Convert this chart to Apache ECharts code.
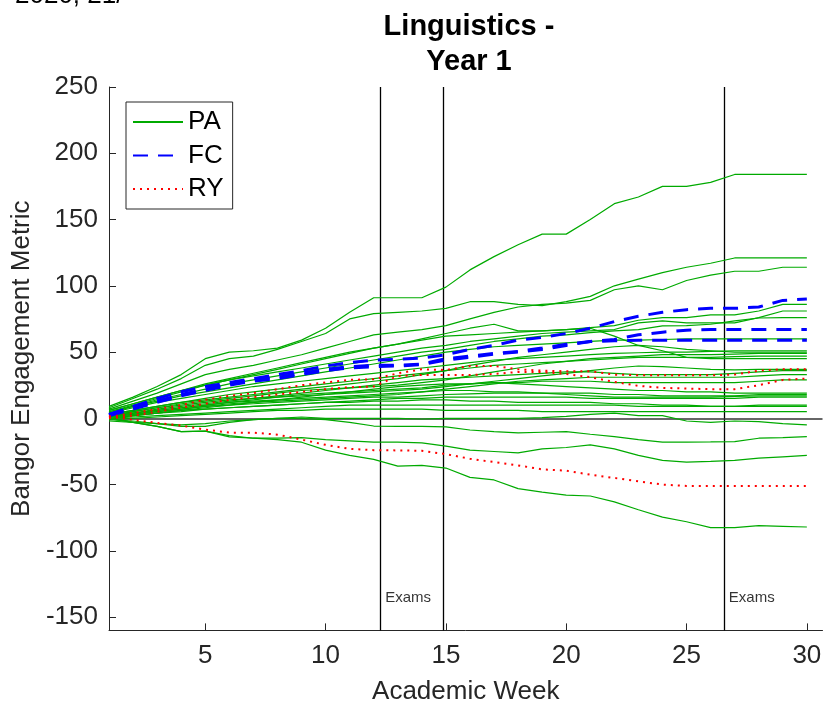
<!DOCTYPE html>
<html><head><meta charset="utf-8">
<script src="https://cdn.jsdelivr.net/npm/echarts@6/dist/echarts.min.js"></script>
<style>html,body{margin:0;padding:0;background:#fff}#c{width:824px;height:702px}</style>
</head><body><div id="c"></div>
<script>
const weeks = [1,2,3,4,5,6,7,8,9,10,11,12,13,14,15,16,17,18,19,20,21,22,23,24,25,26,27,28,29,30];
const yTicks = [-150,-100,-50,0,50,100,150,200,250];
const xTicks = [5,10,15,20,25,30];
const examWeeks = [12.27, 14.9, 26.55];
const examLabelWeeks = [12.27, 26.55];
const examLabelY = -135.5;

// PA (green)
const pa1 = [9,16,24,33,45,50,51,53,59,68,80,91,91,91,99,112,122,131,139,139,150,162,167,175,175,178,184,184,184,184];
const pa2 = [8,15,22,30,40,45,47,52,58,64,75,79,80,81,83,88,88,86,85,88,92,100,105,110,114,117,121,121,121,121];
const pa3 = [7,13,19,26,33,37,40,44,48,53,58,63,65,67,70,75,80,84,86,87,89,97,100,97,104,108,111,111,114,114];
const pa4 = [5,10,15,20,25,29,33,37,41,45,49,53,56,59,62,63,64,65,66,67,68.5,70,74,76,76,78,78,81,86,86];
const pa5 = [6,11,16,21,25,29,32,35,38,41,44,47,50,53,55,58,60,62,64,65,66,67,72,73.5,72,72,72,76,81,81];
const pa6 = [4,9,14,18,22,26,29,32,35,38,41,44,47,50,52,55,58,60,62,63,64.7,66,67,69.7,70,71,73.5,75.7,76,76];
const pa7 = [5,9,13,17,20,23,26,29,32,35,38,41,44,47,50,52,54,55,56,57,58,59,59,59.5,60,60,60,60,60,60];
const pa8 = [6,11,16,21,26,30,34,38,42,46,50,53,56,60,64,68,71,66,66,67,68,62,55,51,46,45,45,45,45,45];
const pa9 = [4,8,12,15,18,21,24,26,28,30,32,34,36,38,40,42,44,45,46,47,48,49,49.5,50,50,50.5,51,51,51,51];
const pa10 = [3,6,9,12,14,16,18,20,22,24,26,28,30,33,36,40,43,46,48,50,52,54,55,54,52,51,50,50,50,50];
const pa11 = [2,5,8,11,13,15,17,19,21,22,23,24,25,27,29,32,35,38,41,43,45,46,47,48,48,48,48.5,49,49,49];
const pa12 = [3,6,9,12,15,18,20,22,24,26,28,30,32,34,36,38,40,41,42,43,44,45,46,46,46,46,46.5,47,47,47];
const pa13 = [2,5,8,10,12,14,15,16,17,18,19,20,21,22,24,26,28,30,32,34,36,38,39.5,39,38,37,36.5,37,37,37];
const pa14 = [1,4,7,9,11,13,15,17,19,21,23,25,27,29,30,31,32,33,34,35,35,34,33,33,33,33,34,35,36,36];
const pa15 = [1,3,5,7,9,11,12,13,14,15,16,17,18,20,22,24,26,28,29,30,31,31,31,31,31,31,31,32,33,33];
const pa16 = [0,2,4,6,8,10,12,14,16,18,20,22,24,25,26,26,27,27,28,28,28,27,27,27,27,27,27,28,29,29];
const pa17 = [2,4,6,8,10,12,13,14,15,16,17,18,19,20,21,21,20,20,19,19,19,18,18,17,17,17,17,18,18,18];
const pa18 = [1,3,5,7,9,10,11,12,13,14,15,16,16,17,18,18.5,19,19,19,18,17,16,16,16,16,16,16.5,17,17,17];
const pa19 = [0,2,4,6,7,8,9,10,11,12,13,14,15,15,16,16,16,16,16,16,15,15,15,15,15,15,15,16,16,16];
const pa20 = [1,2,4,5,7,8,9,10,11,12,12,13,13,14,14,13,13,12,12,12,12,11,11,10,10,9,9,10,10,10];
const pa21 = [0,1,2,3,4,5,6,7,8,9,10,10,10,10,10,10,10,10,10,10,10,10,9,9,9,9,9,9,9,9];
const pa22 = [-1,0,1,2,3,4,5,6,6,7,7,7,7,7,6,6,6,6,5,5,5,5,5,5,5,5,5,5,5,5];
const pa23 = [2,4,6,8,10,12,14,16,18,19,20,21,22,23,25,26,27,26,25,24,23,22,21,21,20,20,19,19,19,19];
const pa24 = [-2,-3,-4,-5,-4,-2,-1,0,1,0,0,0,0,-0.5,0,0,0,0,0.5,1.5,3,4,2,2,-2,-3,-2,-2.5,-4,-5];
const pa25 = [-1,-2,-4,-6,-6,-3,-1,0,0,-1,-3,-5.8,-6,-6,-6.5,-8.8,-10,-11,-10.5,-10,-12,-13.8,-16,-17.9,-17.9,-17.8,-17.6,-15,-14.5,-13.8];
const pa26 = [0,-3,-6,-10,-9.6,-14,-15,-15,-14.6,-16,-17,-18,-18,-18.5,-21,-24,-25,-26,-23,-22,-20,-23,-28,-31.7,-33,-32.5,-31.7,-30,-29,-28];
const pa27 = [0,-3,-6,-10,-9.6,-13,-15,-16,-18,-24,-28,-31,-36,-35.5,-37.5,-44.5,-46.5,-53,-55.6,-58,-58.6,-63,-69,-74.5,-78,-82.5,-82.5,-81,-81.5,-82];
const paLines = [pa1,pa2,pa3,pa4,pa5,pa6,pa7,pa8,pa9,pa10,pa11,pa12,pa13,pa14,pa15,pa16,pa17,pa18,pa19,pa20,pa21,pa22,pa23,pa24,pa25,pa26,pa27];

// FC (blue dashed)
const fc1 = [3,9,15,20,24,27,30,33,36,39.5,42,44,44.5,45.5,48,52,55,59,61,64,68,73,77,80,82,83,83,84,89,90];
const fc2 = [2,7,12,17,21,25,28,30,33,36,38,39,39.5,40.5,44,46,48.5,50,52,55,58,59.5,63,65,66.5,67,67,67,67,67];
const fc3 = [3,8,13,18,22,26,29,31,34,37,39,40,40,41,45,47,49,50.5,53,56,58,58.5,59,59,59,59,59,59,59,59];
const fcLines = [fc1,fc2,fc3];

// RY (red dotted)
const ry1 = [1.7,-1,-3.5,-5.5,-8.5,-10.8,-10.8,-12.3,-16,-20,-23,-24,-24.2,-24.5,-27,-30.5,-33,-35.5,-38.5,-39.5,-42.5,-45,-47.5,-50,-51,-51,-51,-51,-51,-51];
const ry2 = [1,4,7,10,14,17,19,22,25,27,29,29.5,34,37,36.5,39.5,39.5,37,36,35.5,35.5,33,32.5,32.5,32.5,32.5,33,36,37,37];
const ry3 = [0,2,5,8,11,14,16,18,20,22,23.5,24,32,32.7,32.7,32.7,33.5,35,35,33.5,31,27.5,24.5,23,22.5,22,22,25,29,30];
const ryLines = [ry1,ry2,ry3];

const FONT = '"Liberation Sans", Arial, Helvetica, sans-serif';
const AX = '#262626';
const pairs = v => v.map((y, i) => [weeks[i], y]);

const series = [];
paLines.forEach((v, i) => {
  const s = {type:'line', name:'PA', data:pairs(v), symbol:'none', silent:true, z:2,
    lineStyle:{color:'#00aa00', width:1.2}, itemStyle:{color:'#00aa00'}};
  if (i === 0) {
    s.markLine = {silent:true, symbol:'none', label:{show:false}, z:1,
      lineStyle:{color:'#000', width:1.3, type:'solid'},
      data: examWeeks.map(w => ({xAxis:w})).concat([{yAxis:0, lineStyle:{color:'#333', width:1.5, type:'solid'}}])};
  }
  series.push(s);
});
fcLines.forEach(v => series.push({type:'line', name:'FC', data:pairs(v), symbol:'none', silent:true, z:4,
  lineStyle:{color:'#0000ff', width:3, type:[15,10]}, itemStyle:{color:'#0000ff'}}));
ryLines.forEach(v => series.push({type:'line', name:'RY', data:pairs(v), symbol:'none', silent:true, z:4,
  lineStyle:{color:'#ff0000', width:2, type:[2,5]}, itemStyle:{color:'#ff0000'}}));
series.push({type:'scatter', name:'exams', symbolSize:0, silent:true,
  data: examLabelWeeks.map(w => [w, examLabelY]),
  label:{show:true, position:'right', distance:5, formatter:'Exams', fontSize:15, color:'#000', fontFamily:FONT}});

const chart = echarts.init(document.getElementById('c'), null, {renderer:'canvas'});
chart.setOption({
  animation:false,
  backgroundColor:'#fff',
  grid:{left:109, right:1.5, top:87, bottom:71.6, containLabel:false, outerBoundsMode:'none'},
  xAxis:{type:'value', min:1, max:30.65,
    axisLine:{show:true, onZero:false, lineStyle:{color:AX, width:1}},
    axisTick:{show:true, inside:true, length:7, customValues:xTicks, lineStyle:{color:AX}},
    axisLabel:{customValues:xTicks, fontSize:26, color:AX, fontFamily:FONT, margin:12},
    splitLine:{show:false},
    name:'Academic Week', nameLocation:'middle', nameGap:48,
    nameTextStyle:{fontSize:26, color:AX, fontFamily:FONT}},
  yAxis:{type:'value', min:-160, max:250,
    axisLine:{show:true, onZero:false, lineStyle:{color:AX, width:1}},
    axisTick:{show:true, inside:true, length:7, customValues:yTicks, lineStyle:{color:AX}},
    axisLabel:{customValues:yTicks, fontSize:26, color:AX, fontFamily:FONT, margin:11},
    splitLine:{show:false},
    name:'Bangor Engagement Metric', nameLocation:'middle', nameGap:58,
    nameTextStyle:{fontSize:26, color:AX, fontFamily:FONT}},
  legend:{data:['PA','FC','RY'], orient:'vertical', left:126, top:102,
    itemWidth:50, itemHeight:26, itemGap:7.5, padding:[7,9,7,6],
    itemStyle:{opacity:0},
    borderColor:AX, borderWidth:1, backgroundColor:'#fff',
    textStyle:{fontSize:26, color:'#000', fontFamily:FONT, lineHeight:26}, selectedMode:false},
  graphic:[
    {type:'text', x:469, y:9, silent:true, style:{text:'Linguistics -\nYear 1', fontSize:29, fontWeight:'bold',
      fontFamily:FONT, lineHeight:35, textAlign:'center', fill:'#000'}},
    {type:'text', x:15, y:9, silent:true, style:{text:'2020, 21/', fontSize:26, fontFamily:FONT,
      textAlign:'left', textVerticalAlign:'bottom', fill:'#000'}}
  ],
  series: series
});
</script></body></html>
